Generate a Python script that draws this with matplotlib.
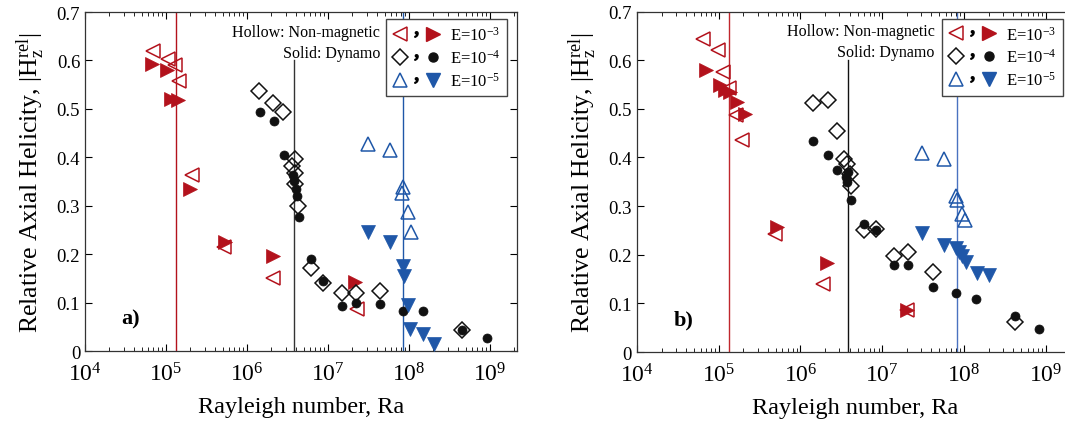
import numpy as np
import matplotlib
matplotlib.use("Agg")
import matplotlib.pyplot as plt
from matplotlib.lines import Line2D
from matplotlib.legend_handler import HandlerTuple
from matplotlib.ticker import LogLocator, LogFormatterMathtext, FixedLocator, FuncFormatter

plt.rcParams['font.family'] = ['Liberation Serif', 'DejaVu Serif']
plt.rcParams['mathtext.fontset'] = 'custom'
plt.rcParams['mathtext.rm'] = 'Liberation Serif'
plt.rcParams['mathtext.it'] = 'Liberation Serif:italic'
plt.rcParams['mathtext.bf'] = 'Liberation Serif:bold'

RED = '#b3121c'
BLACK = '#111111'
BLUE = '#1f57a8'

# ---- panel a) ----
a_e3_hollow_ra = [7.0e4, 1.07e5, 1.29e5, 1.46e5, 2.07e5, 5.2e5, 2.1e6, 2.26e7]
a_e3_hollow_h = [0.620, 0.602, 0.591, 0.557, 0.364, 0.214, 0.150, 0.087]
a_e3_solid_ra = [6.65e4, 1.02e5, 1.14e5, 1.42e5, 1.98e5, 5.3e5, 2.07e6, 2.15e7]
a_e3_solid_h = [0.593, 0.581, 0.521, 0.519, 0.335, 0.225, 0.196, 0.143]

a_e4_hollow_ra = [1.42e6, 2.11e6, 2.8e6, 3.92e6, 3.57e6, 3.92e6, 3.92e6, 4.3e6,
                  6.2e6, 8.6e6, 1.47e7, 2.19e7, 4.38e7, 4.47e8]
a_e4_hollow_h = [0.536, 0.512, 0.493, 0.397, 0.383, 0.368, 0.345, 0.300,
                 0.171, 0.140, 0.120, 0.120, 0.123, 0.043]
a_e4_solid_ra = [1.45e6, 2.15e6, 2.88e6, 3.7e6, 3.8e6, 3.98e6, 4.1e6, 4.38e6,
                 6.2e6, 8.75e6, 1.47e7, 2.19e7, 4.38e7, 8.5e7, 1.5e8, 4.47e8, 9.1e8]
a_e4_solid_h = [0.493, 0.476, 0.405, 0.364, 0.352, 0.335, 0.321, 0.277,
                0.190, 0.145, 0.092, 0.099, 0.098, 0.083, 0.083, 0.043, 0.027]

a_e5_hollow_ra = [3.08e7, 5.8e7, 8.5e7, 8.3e7, 9.6e7, 1.06e8]
a_e5_hollow_h = [0.428, 0.416, 0.338, 0.326, 0.287, 0.245]
a_e5_solid_ra = [3.08e7, 5.8e7, 8.5e7, 8.6e7, 9.6e7, 1.03e8, 1.5e8, 2.04e8]
a_e5_solid_h = [0.245, 0.226, 0.176, 0.154, 0.094, 0.045, 0.035, 0.014]

a_vlines = [1.33e5, 3.84e6, 8.5e7]

# ---- panel b) ----
b_e3_hollow_ra = [6.35e4, 9.7e4, 1.12e5, 1.35e5, 1.63e5, 1.9e5, 4.9e5, 1.9e6, 2.0e7]
b_e3_hollow_h = [0.643, 0.621, 0.576, 0.543, 0.488, 0.435, 0.243, 0.140, 0.087]
b_e3_solid_ra = [7.0e4, 1.04e5, 1.19e5, 1.37e5, 1.69e5, 2.09e5, 5.2e5, 2.09e6, 2.0e7]
b_e3_solid_h = [0.579, 0.548, 0.538, 0.534, 0.514, 0.490, 0.257, 0.183, 0.087]

b_e4_hollow_ra = [1.44e6, 2.15e6, 2.77e6, 3.4e6, 3.75e6, 4.0e6, 4.2e6,
                  5.98e6, 8.3e6, 1.4e7, 2.08e7, 4.2e7, 4.2e8]
b_e4_hollow_h = [0.512, 0.519, 0.455, 0.397, 0.387, 0.365, 0.342,
                 0.250, 0.253, 0.197, 0.206, 0.164, 0.061]
b_e4_solid_ra = [1.41e6, 2.14e6, 2.82e6, 3.6e6, 3.85e6, 3.75e6, 4.2e6, 5.98e6,
                 8.3e6, 1.4e7, 2.08e7, 4.2e7, 7.9e7, 1.4e8, 4.2e8, 8.3e8]
b_e4_solid_h = [0.433, 0.404, 0.375, 0.359, 0.370, 0.349, 0.313, 0.263,
                0.250, 0.178, 0.179, 0.134, 0.121, 0.108, 0.073, 0.047]

b_e5_hollow_ra = [3.03e7, 5.75e7, 7.9e7, 8.3e7, 9.4e7, 1.02e8]
b_e5_hollow_h = [0.409, 0.397, 0.320, 0.313, 0.284, 0.272]
b_e5_solid_ra = [3.03e7, 5.75e7, 7.9e7, 8.7e7, 9.5e7, 1.05e8, 1.46e8, 2.04e8]
b_e5_solid_h = [0.245, 0.220, 0.213, 0.205, 0.198, 0.186, 0.163, 0.158]

b_vlines = [1.33e5, 3.85e6, 8.3e7]

yticks = [0, 0.1, 0.2, 0.3, 0.4, 0.5, 0.6, 0.7]
legend_labels = [r'E=10$^{\mathregular{-3}}$', r'E=10$^{\mathregular{-4}}$',
                 r'E=10$^{\mathregular{-5}}$']


def hollow(ax, x, y, marker, color, ms):
    ax.plot(x, y, linestyle='none', marker=marker, ms=ms, mfc='none',
            mec=color, mew=1.1, zorder=3)


def solid(ax, x, y, marker, color, ms):
    ax.plot(x, y, linestyle='none', marker=marker, ms=ms, mfc=color,
            mec=color, mew=0.5, zorder=3)


def panel(ax, d, vlines, vcols, vlw, tag):
    ax.set_xscale('log')
    ax.set_xlim(1e4, 10 ** 9.333)
    ax.set_ylim(0, 0.7)
    # vertical reference lines
    ax.axvline(vlines[0], color=vcols[0], lw=vlw, zorder=1)
    ax.plot([vlines[1], vlines[1]], [0, 0.6], color=vcols[1], lw=vlw, zorder=1)
    ax.axvline(vlines[2], color=vcols[2], lw=vlw, zorder=1)

    hollow(ax, d[0], d[1], '<', RED, 10)
    solid(ax, d[2], d[3], '>', RED, 9.5)
    hollow(ax, d[4], d[5], 'D', BLACK, 8.5)
    solid(ax, d[6], d[7], 'o', BLACK, 6.5)
    hollow(ax, d[8], d[9], '^', BLUE, 10)
    solid(ax, d[10], d[11], 'v', BLUE, 9.5)

    ax.xaxis.set_major_locator(LogLocator(base=10, numticks=12))
    ax.xaxis.set_major_formatter(LogFormatterMathtext())
    ax.xaxis.set_minor_locator(LogLocator(base=10, subs=np.arange(2, 10), numticks=12))
    ax.yaxis.set_major_locator(FixedLocator(yticks))
    ax.yaxis.set_major_formatter(FuncFormatter(lambda v, p: '0' if v == 0 else '%.1f' % v))
    ax.tick_params(which='both', direction='in', top=True, right=True)
    ax.tick_params(which='major', length=5, width=0.8)
    ax.tick_params(which='minor', length=3, width=0.6)
    ax.tick_params(axis='x', labelsize=17, pad=8)
    ax.tick_params(axis='y', labelsize=13.5)
    for s in ax.spines.values():
        s.set_linewidth(0.9)
        s.set_color('#333333')

    ax.set_xlabel('Rayleigh number, Ra', fontsize=17.5, labelpad=8)
    ax.set_ylabel(r'Relative Axial Helicity, $|\mathrm{H}_\mathrm{z}^\mathrm{rel}|$',
                  fontsize=18.5, labelpad=7)

    ax.text(0.683, 0.965, 'Hollow: Non-magnetic\nSolid: Dynamo', transform=ax.transAxes,
            ha='right', va='top', fontsize=11.5, linespacing=1.4, zorder=4)
    ax.text(0.085, 0.095, tag, transform=ax.transAxes, fontsize=16,
            fontweight='bold', ha='left', va='center')

    comma = Line2D([], [], linestyle='none', marker='$,$', color='k', ms=4)
    handles = []
    for c, (mh, ms_h), (mf, ms_f) in [(RED, ('<', 10), ('>', 9.5)),
                                      (BLACK, ('D', 8.5), ('o', 6.5)),
                                      (BLUE, ('^', 10), ('v', 9.5))]:
        h1 = Line2D([], [], linestyle='none', marker=mh, ms=ms_h, mfc='none', mec=c, mew=1.1)
        h2 = Line2D([], [], linestyle='none', marker=mf, ms=ms_f, mfc=c, mec=c)
        handles.append((h1, comma, h2))
    leg = ax.legend(handles, legend_labels,
                    handler_map={tuple: HandlerTuple(ndivide=None, pad=0.05)},
                    loc='upper right', bbox_to_anchor=(0.977, 0.979),
                    bbox_transform=ax.transAxes,
                    fontsize=12, frameon=True, fancybox=False, framealpha=1,
                    edgecolor='#444444', handlelength=2.9, handletextpad=0.55,
                    borderpad=0.4, labelspacing=0.3, borderaxespad=0)
    leg.get_frame().set_linewidth(1.0)
    leg.set_zorder(10)


fig = plt.figure(figsize=(10.65, 4.27), dpi=100)
ax1 = fig.add_axes([0.0798, 0.1756, 0.4056, 0.7939])
ax2 = fig.add_axes([0.5981, 0.1733, 0.4094, 0.7974])

panel(ax1, [a_e3_hollow_ra, a_e3_hollow_h, a_e3_solid_ra, a_e3_solid_h,
            a_e4_hollow_ra, a_e4_hollow_h, a_e4_solid_ra, a_e4_solid_h,
            a_e5_hollow_ra, a_e5_hollow_h, a_e5_solid_ra, a_e5_solid_h],
      a_vlines, [RED, '#333333', BLUE], 1.0, 'a)')
panel(ax2, [b_e3_hollow_ra, b_e3_hollow_h, b_e3_solid_ra, b_e3_solid_h,
            b_e4_hollow_ra, b_e4_hollow_h, b_e4_solid_ra, b_e4_solid_h,
            b_e5_hollow_ra, b_e5_hollow_h, b_e5_solid_ra, b_e5_solid_h],
      b_vlines, ['#c0272d', '#111111', '#4a72c0'], 1.0, 'b)')

fig.savefig('out.png', dpi=100)
